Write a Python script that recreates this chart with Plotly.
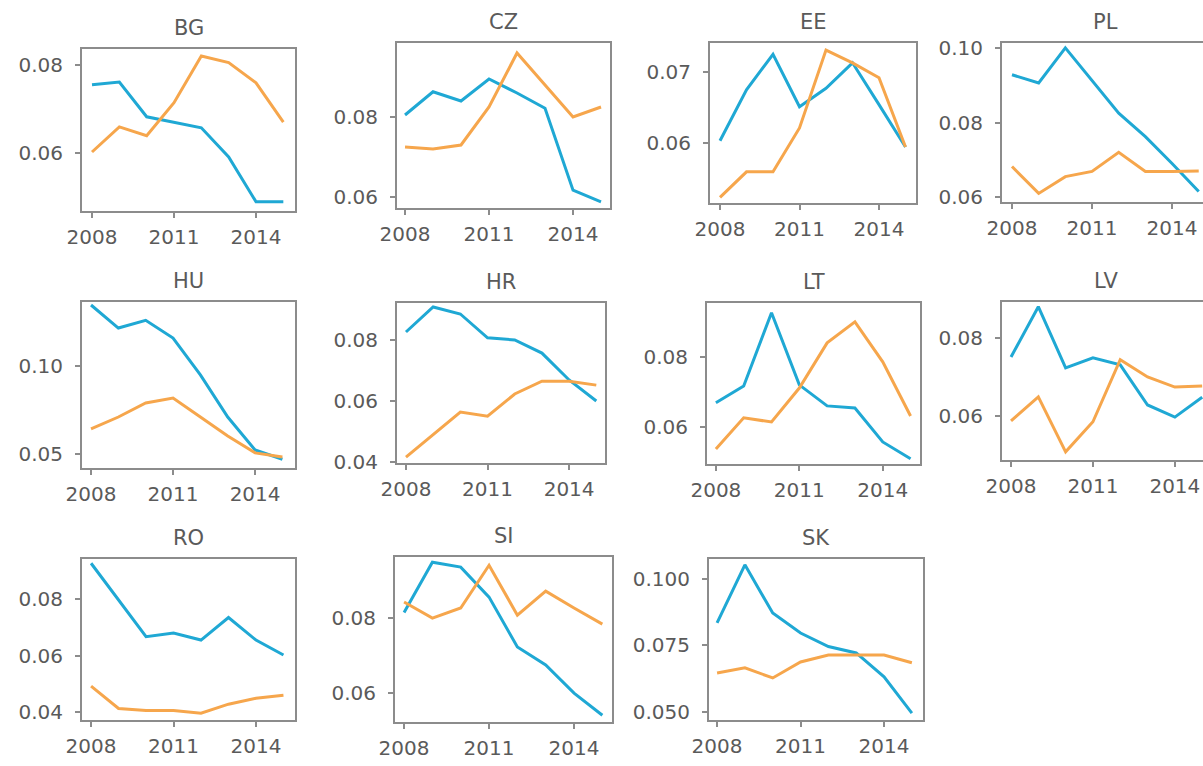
import plotly.graph_objects as go

# ---- data -------------------------------------------------------------
years = [2008, 2009, 2010, 2011, 2012, 2013, 2014, 2015]
countries = ["BG", "CZ", "EE", "PL", "HU", "HR", "LT", "LV", "RO", "SI", "SK"]

blue_BG = [0.0755, 0.0761, 0.0682, 0.0670, 0.0657, 0.0591, 0.0489, 0.0489]
blue_CZ = [0.0805, 0.0863, 0.0840, 0.0895, 0.0860, 0.0822, 0.0617, 0.0588]
blue_EE = [0.0603, 0.0675, 0.0725, 0.0651, 0.0677, 0.0713, 0.0654, 0.0594]
blue_PL = [0.0928, 0.0906, 0.1000, 0.0912, 0.0825, 0.0762, 0.0690, 0.0615]
blue_HU = [0.1347, 0.1216, 0.1260, 0.1159, 0.0949, 0.0710, 0.0523, 0.0470]
blue_HR = [0.0826, 0.0908, 0.0885, 0.0807, 0.0800, 0.0757, 0.0669, 0.0600]
blue_LT = [0.0669, 0.0717, 0.0926, 0.0720, 0.0660, 0.0654, 0.0557, 0.0509]
blue_LV = [0.0751, 0.0880, 0.0723, 0.0749, 0.0731, 0.0628, 0.0597, 0.0648]
blue_RO = [0.0927, 0.0797, 0.0667, 0.0680, 0.0655, 0.0735, 0.0655, 0.0602]
blue_SI = [0.0815, 0.0949, 0.0936, 0.0856, 0.0723, 0.0675, 0.0600, 0.0541]
blue_SK = [0.0835, 0.1053, 0.0872, 0.0797, 0.0746, 0.0722, 0.0632, 0.0496]

orange_BG = [0.0602, 0.0659, 0.0639, 0.0714, 0.0820, 0.0805, 0.0759, 0.0670]
orange_CZ = [0.0725, 0.0720, 0.0730, 0.0825, 0.0960, 0.0880, 0.0800, 0.0825]
orange_EE = [0.0523, 0.0559, 0.0559, 0.0621, 0.0731, 0.0713, 0.0692, 0.0594]
orange_PL = [0.0682, 0.0610, 0.0655, 0.0669, 0.0720, 0.0669, 0.0669, 0.0670]
orange_HU = [0.0642, 0.0710, 0.0790, 0.0818, 0.0710, 0.0602, 0.0506, 0.0483]
orange_HR = [0.0416, 0.0489, 0.0564, 0.0550, 0.0623, 0.0665, 0.0665, 0.0652]
orange_LT = [0.0537, 0.0626, 0.0614, 0.0711, 0.0840, 0.0900, 0.0786, 0.0631]
orange_LV = [0.0587, 0.0649, 0.0508, 0.0585, 0.0744, 0.0700, 0.0674, 0.0677]
orange_RO = [0.0492, 0.0413, 0.0406, 0.0406, 0.0396, 0.0428, 0.0449, 0.0460]
orange_SI = [0.0843, 0.0800, 0.0827, 0.0941, 0.0808, 0.0872, 0.0827, 0.0784]
orange_SK = [0.0647, 0.0666, 0.0628, 0.0688, 0.0714, 0.0714, 0.0714, 0.0685]

blue_series = {"BG": blue_BG, "CZ": blue_CZ, "EE": blue_EE, "PL": blue_PL,
               "HU": blue_HU, "HR": blue_HR, "LT": blue_LT, "LV": blue_LV,
               "RO": blue_RO, "SI": blue_SI, "SK": blue_SK}
orange_series = {"BG": orange_BG, "CZ": orange_CZ, "EE": orange_EE, "PL": orange_PL,
                 "HU": orange_HU, "HR": orange_HR, "LT": orange_LT, "LV": orange_LV,
                 "RO": orange_RO, "SI": orange_SI, "SK": orange_SK}

x_tick_vals = [2008, 2011, 2014]
y_tick_vals = {
    "BG": [0.06, 0.08], "CZ": [0.06, 0.08], "EE": [0.06, 0.07],
    "PL": [0.06, 0.08, 0.10], "HU": [0.05, 0.10], "HR": [0.04, 0.06, 0.08],
    "LT": [0.06, 0.08], "LV": [0.06, 0.08], "RO": [0.04, 0.06, 0.08],
    "SI": [0.06, 0.08], "SK": [0.050, 0.075, 0.100],
}

# ---- layout of the panels (pixel frame: left, right, top, bottom) -----
W, H = 1203, 766
frames = {
    "BG": (82, 295, 49, 211),   "CZ": (397, 610, 43, 208),
    "EE": (710, 916, 43, 203),  "PL": (1002, 1209, 43, 202),
    "HU": (82, 295, 302, 468),  "HR": (397, 605, 303, 463),
    "LT": (707, 920, 303, 464), "LV": (1002, 1209, 302, 460),
    "RO": (82, 295, 559, 720),  "SI": (395, 612, 557, 722),
    "SK": (709, 923, 559, 720),
}
x_ranges = {
    "BG": [2007.634, 2015.427], "CZ": [2007.714, 2015.321],
    "EE": [2007.623, 2015.396], "PL": [2007.625, 2015.16],
    "HU": [2007.67, 2015.46],   "HR": [2007.67, 2015.32],
    "LT": [2007.68, 2015.34],   "LV": [2007.67, 2015.03],
    "RO": [2007.67, 2015.42],   "SI": [2007.68, 2015.34],
    "SK": [2007.71, 2015.40],
}
y_ranges = {
    "BG": [0.0468, 0.0836], "CZ": [0.05725, 0.0985], "EE": [0.0515, 0.0741],
    "PL": [0.0587, 0.1013], "HU": [0.042, 0.1364],   "HR": [0.0397, 0.0921],
    "LT": [0.0494, 0.0954], "LV": [0.0487, 0.0892], "RO": [0.0372, 0.0942],
    "SI": [0.0523, 0.0963], "SK": [0.047, 0.1075],
}
open_right = {"PL", "LV"}

BLUE = "#1fa8d4"
ORANGE = "#f6a64c"
TEXT = "#5a5a5a"
FRAME = "#8c8c8c"
FONT = "DejaVu Sans"
TICK_SIZE = 20
TITLE_SIZE = 21

fig = go.Figure()
annotations = []
layout_axes = {}

for i, c in enumerate(countries, start=1):
    xa = "x" if i == 1 else f"x{i}"
    ya = "y" if i == 1 else f"y{i}"
    xkey = "xaxis" if i == 1 else f"xaxis{i}"
    ykey = "yaxis" if i == 1 else f"yaxis{i}"
    L, R, T, B = frames[c]
    Rc = min(R, W)

    fig.add_trace(go.Scatter(x=years, y=blue_series[c], mode="lines",
                             line=dict(color=BLUE, width=3),
                             xaxis=xa, yaxis=ya, showlegend=False))
    fig.add_trace(go.Scatter(x=years, y=orange_series[c], mode="lines",
                             line=dict(color=ORANGE, width=3),
                             xaxis=xa, yaxis=ya, showlegend=False))

    fmt = ".3f" if c == "SK" else ".2f"
    layout_axes[xkey] = dict(
        domain=[L / W, Rc / W], anchor=ya, range=x_ranges[c],
        tickvals=x_tick_vals, ticktext=[str(v) for v in x_tick_vals],
        ticks="outside", ticklen=5, tickwidth=1.5, tickcolor=FRAME,
        showline=True, linecolor=FRAME, linewidth=2, mirror=True,
        showgrid=False, zeroline=False, automargin=False,
        ticklabelstandoff=2,
        tickfont=dict(family=FONT, size=TICK_SIZE, color=TEXT),
    )
    layout_axes[ykey] = dict(
        domain=[1 - B / H, 1 - T / H], anchor=xa, range=y_ranges[c],
        tickvals=y_tick_vals[c], tickformat=fmt,
        ticks="outside", ticklen=5, tickwidth=1.5, tickcolor=FRAME,
        showline=True, linecolor=FRAME, linewidth=2,
        mirror=(c not in open_right),
        showgrid=False, zeroline=False, automargin=False,
        ticklabelstandoff=8,
        tickfont=dict(family=FONT, size=TICK_SIZE, color=TEXT),
    )
    annotations.append(dict(
        text=c, x=(L + R) / 2 / W,
        y=1 - (T - 21) / H, xref="paper", yref="paper",
        xanchor="center", yanchor="middle", showarrow=False,
        font=dict(family=FONT, size=TITLE_SIZE, color=TEXT),
    ))

fig.update_layout(
    width=W, height=H,
    margin=dict(l=0, r=0, t=0, b=0),
    paper_bgcolor="white", plot_bgcolor="white",
    annotations=annotations,
    **layout_axes,
)

fig.write_html("out.html")
